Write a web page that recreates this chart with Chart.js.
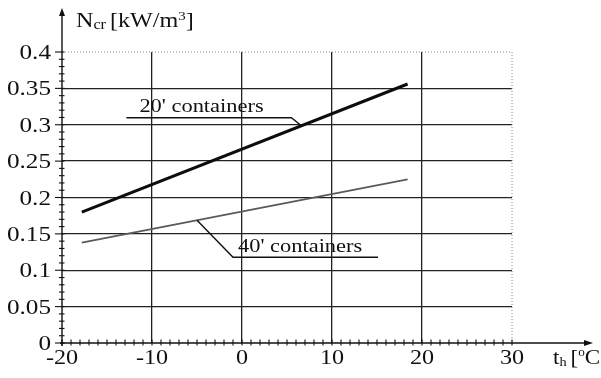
<!DOCTYPE html>
<html>
<head>
<meta charset="utf-8">
<script src="https://cdn.jsdelivr.net/npm/chart.js@4.4.1/dist/chart.umd.min.js"></script>
<style>
  html, body { margin: 0; padding: 0; background: #fff; }
  canvas { display: block; }
</style>
</head>
<body>
<canvas id="c" width="601" height="378"></canvas>
<script>
// Critical heat load N_cr versus outside temperature t_h
const temps20 = [-17.8, 18.4];
const ncr20 = [0.180, 0.356];
const temps40 = [-17.8, 18.4];
const ncr40 = [0.138, 0.225];
const xTickLabels = ['-20', '-10', '0', '10', '20', '30'];
const yTickLabels = ['0', '0.05', '0.1', '0.15', '0.2', '0.25', '0.3', '0.35', '0.4'];
const seriesNames = ["20' containers", "40' containers"];

const X_MIN = -20, X_MAX = 30, X_STEP = 10;
const Y_MIN = 0, Y_MAX = 0.4, Y_STEP = 0.05;

const SERIF = "'Liberation Serif', 'Times New Roman', serif";
const TXT = '#111';

// text drawn with a slight horizontal widening
function drawText(ctx, str, x, y, align, size, sx) {
  ctx.save();
  ctx.font = size + 'px ' + SERIF;
  ctx.fillStyle = TXT;
  ctx.textBaseline = 'alphabetic';
  const w = ctx.measureText(str).width * sx;
  let left = x;
  if (align === 'center') left = x - w / 2;
  else if (align === 'right') left = x - w;
  ctx.translate(left, y);
  ctx.scale(sx, 1);
  ctx.textAlign = 'left';
  ctx.fillText(str, 0, 0);
  ctx.restore();
  return w;
}

// value on a straight segment series at a given temperature
function interp(xs, ys, t) {
  const k = (t - xs[0]) / (xs[1] - xs[0]);
  return ys[0] + k * (ys[1] - ys[0]);
}

const decorations = {
  id: 'decorations',
  beforeDatasetsDraw(chart) {
    const { ctx } = chart;
    const xs = chart.scales.x, ys = chart.scales.y;
    // dotted frame on top and right
    ctx.save();
    ctx.strokeStyle = '#888';
    ctx.lineWidth = 1;
    ctx.setLineDash([1, 2]);
    ctx.beginPath();
    ctx.moveTo(xs.getPixelForValue(X_MIN), ys.getPixelForValue(Y_MAX));
    ctx.lineTo(xs.getPixelForValue(X_MAX), ys.getPixelForValue(Y_MAX));
    ctx.lineTo(xs.getPixelForValue(X_MAX), ys.getPixelForValue(Y_MIN));
    ctx.stroke();
    ctx.restore();
  },
  afterDraw(chart) {
    const { ctx } = chart;
    const xs = chart.scales.x, ys = chart.scales.y;
    const x0 = xs.getPixelForValue(X_MIN);
    const y0 = ys.getPixelForValue(Y_MIN);

    ctx.save();
    ctx.strokeStyle = '#111';
    ctx.fillStyle = '#111';
    ctx.lineWidth = 1.4;

    // vertical axis with arrow
    ctx.beginPath();
    ctx.moveTo(x0, y0 + 3);
    ctx.lineTo(x0, 12);
    ctx.stroke();
    ctx.beginPath();
    ctx.moveTo(x0, 8);
    ctx.lineTo(x0 - 3, 16);
    ctx.lineTo(x0 + 3, 16);
    ctx.closePath();
    ctx.fill();

    // horizontal axis with arrow
    ctx.beginPath();
    ctx.moveTo(x0 - 2, y0);
    ctx.lineTo(588, y0);
    ctx.stroke();
    ctx.beginPath();
    ctx.moveTo(593, y0);
    ctx.lineTo(584, y0 - 3);
    ctx.lineTo(584, y0 + 3);
    ctx.closePath();
    ctx.fill();

    // minor and major ticks on the vertical axis
    ctx.lineWidth = 1.1;
    for (let i = 0; i <= 40; i++) {
      const v = Y_MIN + i * 0.01;
      const py = ys.getPixelForValue(v);
      const major = i % 5 === 0;
      ctx.beginPath();
      ctx.moveTo(x0 - (major ? 7 : 3), py);
      ctx.lineTo(x0 + 2.5, py);
      ctx.stroke();
    }
    // minor ticks on the horizontal axis
    for (let i = 0; i <= 50; i++) {
      const v = X_MIN + i;
      const px = xs.getPixelForValue(v);
      ctx.beginPath();
      ctx.moveTo(px, y0 - 3.5);
      ctx.lineTo(px, y0 + 2.5);
      ctx.stroke();
    }
    ctx.restore();

    // tick labels
    yTickLabels.forEach((lab, i) => {
      const py = ys.getPixelForValue(Y_MIN + i * Y_STEP);
      drawText(ctx, lab, 51, py + 7, 'right', 21, 1.2);
    });
    xTickLabels.forEach((lab, i) => {
      const px = xs.getPixelForValue(X_MIN + i * X_STEP);
      drawText(ctx, lab, px, 364, 'center', 21, 1.15);
    });

    // axis titles
    let cx = 76;
    cx += drawText(ctx, 'N', cx, 27, 'left', 21, 1.15);
    cx += drawText(ctx, 'cr', cx, 29, 'left', 14, 1.15) + 4;
    cx += drawText(ctx, '[kW/m', cx, 27, 'left', 21, 1.15);
    cx += drawText(ctx, '3', cx, 20, 'left', 13, 1.15);
    drawText(ctx, ']', cx, 27, 'left', 21, 1.15);

    let tx = 553;
    tx += drawText(ctx, 't', tx, 364, 'left', 21, 1.1);
    tx += drawText(ctx, 'h', tx, 366, 'left', 13, 1.1) + 4;
    tx += drawText(ctx, '[', tx, 364, 'left', 21, 1.1);
    tx += drawText(ctx, 'o', tx, 356, 'left', 12, 1.1);
    drawText(ctx, 'C]', tx, 364, 'left', 21, 1.1);

    // series labels with leader lines
    ctx.save();
    ctx.strokeStyle = '#111';
    ctx.lineWidth = 1.4;
    const a20x = 6.6;
    const p20x = xs.getPixelForValue(a20x);
    const p20y = ys.getPixelForValue(interp(temps20, ncr20, a20x));
    ctx.beginPath();
    ctx.moveTo(p20x, p20y);
    ctx.lineTo(p20x - 10, p20y - 8);
    ctx.lineTo(p20x - 175, p20y - 8);
    ctx.stroke();

    const a40x = -5.0;
    const p40x = xs.getPixelForValue(a40x);
    const p40y = ys.getPixelForValue(interp(temps40, ncr40, a40x));
    ctx.beginPath();
    ctx.moveTo(p40x, p40y);
    ctx.lineTo(p40x + 36, p40y + 37);
    ctx.lineTo(p40x + 181, p40y + 37);
    ctx.stroke();
    ctx.restore();

    drawText(ctx, seriesNames[0], p20x - 162, p20y - 13.5, 'left', 19.5, 1.15);
    drawText(ctx, seriesNames[1], p40x + 41, p40y + 31.5, 'left', 19.5, 1.15);
  }
};

function gridColor(edgeA, edgeB) {
  return (c) => {
    const v = c.tick ? c.tick.value : null;
    if (v === null) return '#222';
    if (Math.abs(v - edgeA) < 1e-9 || Math.abs(v - edgeB) < 1e-9) return 'rgba(0,0,0,0)';
    return '#222';
  };
}

new Chart(document.getElementById('c'), {
  type: 'scatter',
  data: {
    datasets: [
      {
        label: seriesNames[0],
        data: temps20.map((t, i) => ({ x: t, y: ncr20[i] })),
        showLine: true,
        borderColor: '#0d0d0d',
        borderWidth: 3,
        pointRadius: 0,
        fill: false
      },
      {
        label: seriesNames[1],
        data: temps40.map((t, i) => ({ x: t, y: ncr40[i] })),
        showLine: true,
        borderColor: '#5a5a5a',
        borderWidth: 1.8,
        pointRadius: 0,
        fill: false
      }
    ]
  },
  options: {
    responsive: false,
    animation: false,
    devicePixelRatio: 1,
    layout: { padding: { left: 0, top: 52, right: 89, bottom: 0 } },
    plugins: { legend: { display: false }, tooltip: { enabled: false } },
    scales: {
      x: {
        type: 'linear',
        min: X_MIN, max: X_MAX,
        ticks: { display: false, stepSize: X_STEP },
        grid: { color: gridColor(X_MIN, X_MAX), lineWidth: 1.3, drawTicks: false },
        border: { display: false },
        afterFit: (s) => { s.height = 35; }
      },
      y: {
        type: 'linear',
        min: Y_MIN, max: Y_MAX,
        ticks: { display: false, stepSize: Y_STEP },
        grid: { color: gridColor(Y_MIN, Y_MAX), lineWidth: 1.3, drawTicks: false },
        border: { display: false },
        afterFit: (s) => { s.width = 62; }
      }
    }
  },
  plugins: [decorations]
});
</script>
</body>
</html>
